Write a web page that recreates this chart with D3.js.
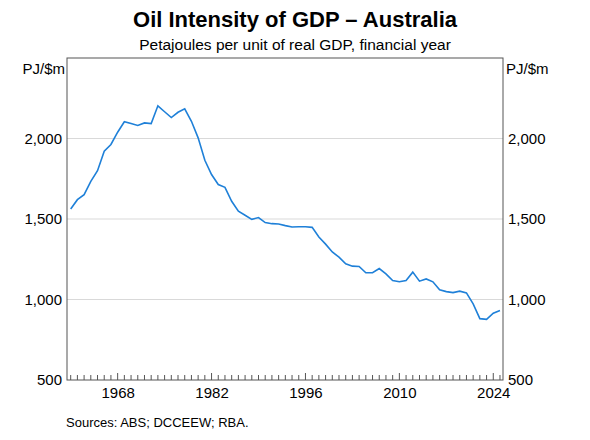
<!DOCTYPE html><html><head><meta charset="utf-8"><script src="https://cdn.jsdelivr.net/npm/d3@7"></script>
<style>body{margin:0;background:#fff}text{font-family:Arial,"Liberation Sans",sans-serif}</style></head><body><svg id="c" width="590" height="440"></svg><script>
const startYear=1961;
const values=[1562,1620,1651,1734,1800,1921,1963,2039,2104,2093,2081,2097,2093,2203,2166,2130,2163,2184,2107,2004,1865,1776,1714,1697,1610,1548,1523,1498,1509,1478,1471,1469,1459,1450,1452,1452,1448,1388,1344,1295,1263,1222,1207,1205,1166,1166,1192,1159,1118,1110,1118,1170,1114,1128,1110,1060,1049,1043,1052,1041,973,881,877,915,932];
const yTicks=[500,1000,1500,2000,2500];
const xTickLabels=[1968,1982,1996,2010,2024];
const svg=d3.select("#c");
const L=67,R=503,T=58,B=380;
const x=d3.scaleLinear().domain([1960.45,2025.45]).range([L,R]);
const y=d3.scaleLinear().domain([500,2500]).range([B,T]);
const data=values.map((v,i)=>({yr:startYear+i,v}));
svg.append("g").selectAll("line").data(yTicks.slice(1,-1)).join("line")
 .attr("x1",L).attr("x2",R).attr("y1",d=>y(d)).attr("y2",d=>y(d)).attr("stroke","#d9d9d9").attr("stroke-width",1);
svg.append("rect").attr("x",L).attr("y",T).attr("width",R-L).attr("height",B-T).attr("fill","none").attr("stroke","#555").attr("stroke-width",1);
const fmt=d3.format(",");
const yl=d3.axisLeft(y).tickValues(yTicks).tickSize(0).tickPadding(5).tickFormat(d=>d===2500?"":fmt(d));
svg.append("g").attr("transform",`translate(${L},0)`).call(yl).call(g=>g.select(".domain").remove()).selectAll("text").attr("font-size",15).attr("fill","#000");
const yr=d3.axisRight(y).tickValues(yTicks).tickSize(0).tickPadding(5).tickFormat(d=>d===2500?"":fmt(d));
svg.append("g").attr("transform",`translate(${R},0)`).call(yr).call(g=>g.select(".domain").remove()).selectAll("text").attr("font-size",15).attr("fill","#000");
const years=d3.range(1961,2026);
svg.append("g").selectAll("line").data(years).join("line").attr("x1",d=>x(d)).attr("x2",d=>x(d)).attr("y1",B).attr("y2",d=>xTickLabels.includes(d)?B-7:B-5).attr("stroke","#555");
const xa=d3.axisBottom(x).tickValues(xTickLabels).tickSize(0).tickPadding(7).tickFormat(d3.format("d"));
svg.append("g").attr("transform",`translate(0,${B})`).call(xa).call(g=>g.select(".domain").remove()).selectAll("text").attr("font-size",15).attr("fill","#000");
svg.append("path").datum(data).attr("fill","none").attr("stroke","#1f80d8").attr("stroke-width",1.6)
 .attr("d",d3.line().x(d=>x(d.yr)).y(d=>y(d.v)));
svg.append("text").attr("x",295).attr("y",27).attr("text-anchor","middle").attr("font-size",22).attr("font-weight","bold").text("Oil Intensity of GDP – Australia");
svg.append("text").attr("x",295).attr("y",50).attr("text-anchor","middle").attr("font-size",15.5).text("Petajoules per unit of real GDP, financial year");
svg.append("text").attr("x",L-2).attr("y",74).attr("text-anchor","end").attr("font-size",15).text("PJ/$m");
svg.append("text").attr("x",R+3).attr("y",74).attr("text-anchor","start").attr("font-size",15).text("PJ/$m");
svg.append("text").attr("x",66).attr("y",427).attr("font-size",13).text("Sources: ABS; DCCEEW; RBA.");
</script></body></html>
